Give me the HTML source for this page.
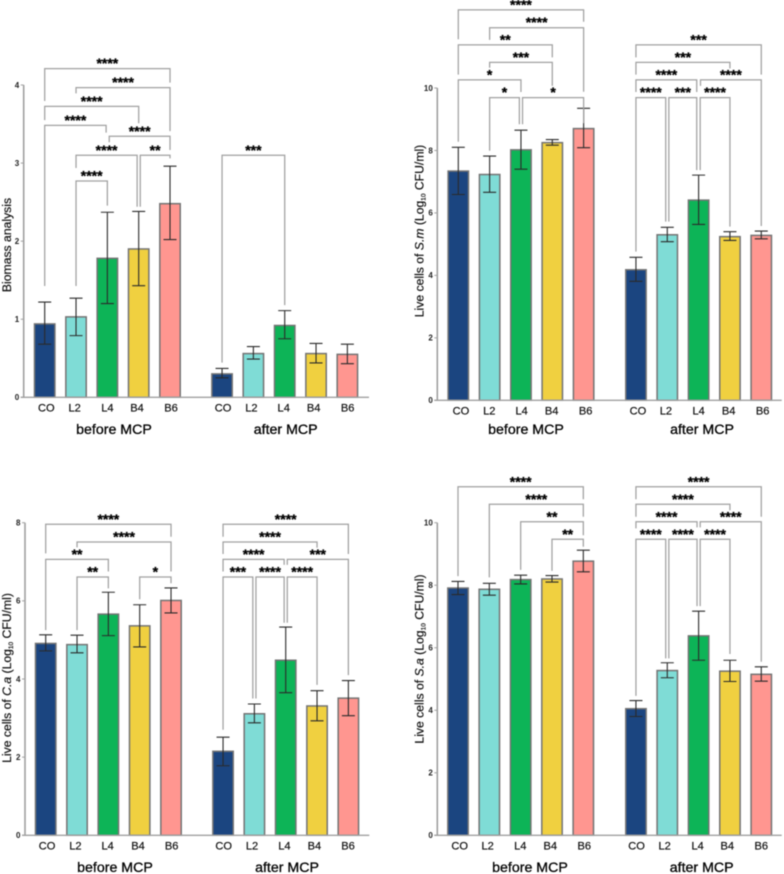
<!DOCTYPE html>
<html lang="en">
<head>
<meta charset="utf-8">
<title>Biomass and live cell counts before and after MCP</title>
<style>
html,body{margin:0;padding:0;background:#fff;width:784px;height:874px;overflow:hidden}
svg{display:block;filter:blur(.5px)}
text{font-family:"Liberation Sans",sans-serif;fill:#1a1a1a}
.ytitle{font-size:12.2px;fill:#111;stroke:#111;stroke-width:.2px}
.group{font-size:14.2px;fill:#000;stroke:#000;stroke-width:.3px}
.xtick{font-size:11.1px;fill:#111;stroke:#111;stroke-width:.2px}
.ytick{font-size:8px;font-weight:bold;fill:#222}
.sig{font-size:14px;font-weight:bold;fill:#000;stroke:#000;stroke-width:.3px;text-anchor:middle}
</style>
</head>
<body>
<svg id="figure" width="784" height="874" viewBox="0 0 784 874" xmlns="http://www.w3.org/2000/svg">
  <rect width="784" height="874" fill="#fff"/>
  <g id="panel-biomass">
    <text class="ytitle" text-anchor="middle" transform="translate(11,245) rotate(-90)">Biomass analysis</text>
    <text class="group" text-anchor="middle" x="114" y="434">before MCP</text>
    <text class="group" text-anchor="middle" x="285.7" y="434">after MCP</text>
  </g>
  <g id="panel-sm">
    <text class="ytitle" text-anchor="middle" transform="translate(423.5,231) rotate(-90)">Live cells of <tspan font-style="italic">S.m</tspan> (Log<tspan font-size="6.5" dy="2">10</tspan><tspan dy="-2"> CFU/ml)</tspan></text>
    <text class="group" text-anchor="middle" x="526" y="434">before MCP</text>
    <text class="group" text-anchor="middle" x="702" y="434">after MCP</text>
  </g>
  <g id="panel-ca">
    <text class="ytitle" text-anchor="middle" transform="translate(11,678) rotate(-90)">Live cells of <tspan font-style="italic">C.a</tspan> (Log<tspan font-size="6.5" dy="2">10</tspan><tspan dy="-2">  CFU/ml)</tspan></text>
    <text class="group" text-anchor="middle" x="115" y="872">before MCP</text>
    <text class="group" text-anchor="middle" x="287" y="872">after MCP</text>
  </g>
  <g id="panel-sa">
    <text class="ytitle" text-anchor="middle" transform="translate(423.5,659) rotate(-90)">Live cells of <tspan font-style="italic">S.a</tspan> (Log<tspan font-size="6.5" dy="2">10</tspan><tspan dy="-2">  CFU/ml)</tspan></text>
    <text class="group" text-anchor="middle" x="530" y="872">before MCP</text>
    <text class="group" text-anchor="middle" x="701.7" y="872">after MCP</text>
  </g>
</svg>
<script>
const categories = ["CO","L2","L4","B4","B6","CO","L2","L4","B4","B6"];
const barColors = ["#1b4580","#7fdcd6","#0db457","#f0d040","#ff9690"];

const biomassTicks = [0,1,2,3,4];
const biomassMeans = [0.94,1.03,1.78,1.90,2.48,0.30,0.56,0.92,0.56,0.55];
const biomassUpper = [1.22,1.27,2.37,2.38,2.96,0.37,0.65,1.11,0.69,0.68];
const biomassLower = [0.68,0.79,1.20,1.43,2.02,0.25,0.49,0.75,0.44,0.43];
const biomassBrackets = [
  [0,4,4.21,3.795,4.03,"****"],
  [1,4,3.966,3.893,3.41,"****"],
  [0,3,3.727,3.55,3.51,"****"],
  [0,1.96,3.483,1.426,3.39,"****"],
  [2.06,4,3.343,3.266,3.167,"****"],
  [1,2.95,3.10,2.937,2.44,"****"],
  [3.05,4,3.10,2.44,3.06,"**"],
  [1,2,2.77,1.426,2.455,"****"],
  [5,7,3.10,0.444,1.18,"***"]
];

const smTicks = [0,2,4,6,8,10];
const smMeans = [7.34,7.23,8.02,8.25,8.70,4.18,5.30,6.41,5.24,5.28];
const smUpper = [8.10,7.82,8.65,8.35,9.35,4.58,5.54,7.21,5.40,5.42];
const smLower = [6.59,6.66,7.40,8.17,8.09,3.81,5.08,5.63,5.12,5.17];
const smBrackets = [
  [0,4,12.50,11.56,12.12,"****"],
  [1,4,11.93,11.54,9.88,"****"],
  [0,3,11.38,10.43,10.98,"**"],
  [1,3,10.82,10.65,10.07,"***"],
  [0,2,10.26,8.28,9.87,"*"],
  [1,1.95,9.69,7.99,8.84,"*"],
  [2.05,4,9.69,8.84,8.87,"*"],
  [5,9,11.38,10.98,10.43,"***"],
  [5,8,10.82,10.43,10.63,"***"],
  [5,6.94,10.26,9.87,9.87,"****"],
  [7.06,9,10.26,10.07,5.58,"****"],
  [5,5.95,9.69,4.76,5.72,"****"],
  [6.05,6.94,9.69,5.72,7.37,"***"],
  [7.05,8,9.69,7.37,5.56,"****"]
];

const caTicks = [0,2,4,6,8];
const caMeans = [4.91,4.88,5.66,5.36,6.01,2.15,3.11,4.48,3.31,3.51];
const caUpper = [5.13,5.12,6.22,5.90,6.33,2.51,3.36,5.33,3.70,3.96];
const caLower = [4.72,4.67,5.11,4.82,5.69,1.78,2.88,3.65,2.93,3.06];
const caBrackets = [
  [0,4,7.96,7.215,7.64,"****"],
  [1,4,7.505,7.37,6.75,"****"],
  [0,2,7.06,5.25,6.75,"**"],
  [1,2,6.61,5.25,6.32,"**"],
  [3,4,6.61,6.04,6.45,"*"],
  [5,9,7.96,7.64,7.2,"****"],
  [5,8,7.505,7.2,7.36,"****"],
  [5,6.95,7.06,6.75,6.92,"****"],
  [7.05,9,7.06,6.92,4.1,"***"],
  [5,5.95,6.61,2.7,3.5,"***"],
  [6.05,6.95,6.61,3.5,5.44,"****"],
  [7.05,8,6.61,5.44,3.85,"****"]
];

const saTicks = [0,2,4,6,8,10];
const saMeans = [7.91,7.87,8.18,8.20,8.77,4.05,5.27,6.38,5.25,5.15];
const saUpper = [8.12,8.06,8.32,8.31,9.12,4.31,5.52,7.17,5.60,5.39];
const saLower = [7.70,7.68,8.04,8.10,8.43,3.80,5.04,5.60,4.92,4.93];
const saBrackets = [
  [0,4,11.15,8.29,10.75,"****"],
  [1,4,10.59,8.25,10.19,"****"],
  [2,4,10.03,8.49,9.6,"**"],
  [3,4,9.47,8.46,9.23,"**"],
  [5,9,11.15,10.75,10.19,"****"],
  [5,8,10.59,10.19,10.4,"****"],
  [5,6.95,10.03,9.82,9.85,"****"],
  [7.05,9,10.03,9.85,5.55,"****"],
  [5,5.95,9.47,4.46,5.66,"****"],
  [6.05,6.95,9.47,5.66,7.33,"****"],
  [7.05,8,9.47,7.33,5.8,"****"]
];

const SVGNS = "http://www.w3.org/2000/svg";

function make(parent, tag, attrs, content) {
  const el = document.createElementNS(SVGNS, tag);
  for (const k in attrs) el.setAttribute(k, attrs[k]);
  if (content !== undefined) el.textContent = content;
  parent.appendChild(el);
  return el;
}

function drawPanel(id, ticks, means, upper, lower, brackets, layout) {
  const root = document.getElementById(id);
  const maxTick = ticks[ticks.length - 1];
  const yScale = v => layout.y0 - (v / maxTick) * (layout.y0 - layout.yTop);
  const xScale = i => layout.x0 + i * layout.step + (i >= 4.5 ? layout.gap : 0);
  const halfBar = 10.2;

  means.forEach((m, i) => {
    const cx = xScale(i);
    const bar = make(root, "rect", {
      x: cx - halfBar, y: yScale(m), width: halfBar * 2, height: yScale(0) - yScale(m),
      fill: barColors[i % 5], stroke: "#747474", "stroke-width": 1.5
    });
    
    
  });

  means.forEach((m, i) => {
    const cx = xScale(i);
    const err = make(root, "path", {
      d: "M" + (cx - 6.5) + " " + yScale(upper[i]) + "H" + (cx + 6.5) +
         "M" + cx + " " + yScale(upper[i]) + "V" + yScale(lower[i]) +
         "M" + (cx - 6.5) + " " + yScale(lower[i]) + "H" + (cx + 6.5),
      fill: "none", stroke: "#2a2a2a", "stroke-width": 1.1
    });
    
    
  });

  const yAxis = make(root, "line", {
    x1: layout.axisX, x2: layout.axisX, y1: yScale(0), y2: yScale(maxTick),
    stroke: "#a0a0a0", "stroke-width": 1.6
  });
  
  

  const xAxis = make(root, "line", {
    x1: layout.axisX - 3, x2: layout.axisEnd, y1: yScale(0), y2: yScale(0),
    stroke: "#a0a0a0", "stroke-width": 1.3
  });
  
  

  ticks.forEach(t => {
    const mark = make(root, "line", {
      x1: layout.axisX - 3, x2: layout.axisX, y1: yScale(t), y2: yScale(t),
      stroke: "#a0a0a0", "stroke-width": 1
    });
    
    
    const label = make(root, "text", {
      class: "ytick", x: layout.axisX - 4.5, y: yScale(t) + 2.8, "text-anchor": "end"
    }, String(t));
    
    
  });

  categories.forEach((c, i) => {
    const label = make(root, "text", {
      class: "xtick", x: xScale(i) + layout.labelDx[i] / 3, y: layout.y0 + 14, "text-anchor": "middle"
    }, c);
    
    
  });

  brackets.forEach(b => {
    const xa = xScale(b[0]), xb = xScale(b[1]), yl = yScale(b[2]);
    const line = make(root, "path", {
      d: "M" + xa + " " + yScale(b[3]) + "V" + yl + "H" + xb + "V" + yScale(b[4]),
      fill: "none", stroke: "#a0a0a0", "stroke-width": 1.25
    });
    
    
    const star = make(root, "text", { class: "sig", x: (xa + xb) / 2, y: yl - 0.5 }, b[5]);
    
    
  });
}

drawPanel("panel-biomass", biomassTicks, biomassMeans, biomassUpper, biomassLower, biomassBrackets, {
  y0: 397.3, yTop: 85, x0: 44.7, step: 31.33, gap: 20.7, axisX: 23.7, axisEnd: 369,
  labelDx: [5,-4,0,-5,3,3,-6,-3,-7,1]
});
drawPanel("panel-sm", smTicks, smMeans, smUpper, smLower, smBrackets, {
  y0: 400.3, yTop: 88, x0: 458.3, step: 31.33, gap: 21, axisX: 437.3, axisEnd: 781.7,
  labelDx: [8,-1,2,-2,6,6,-4,0,-4,4]
});
drawPanel("panel-ca", caTicks, caMeans, caUpper, caLower, caBrackets, {
  y0: 835.3, yTop: 522.7, x0: 45.7, step: 31.33, gap: 20.7, axisX: 25, axisEnd: 369.3,
  labelDx: [4,-5,-2,-5,2,2,-7,-4,-8,-1]
});
drawPanel("panel-sa", saTicks, saMeans, saUpper, saLower, saBrackets, {
  y0: 835.3, yTop: 522.7, x0: 458, step: 31.33, gap: 21.3, axisX: 437.3, axisEnd: 781.7,
  labelDx: [5,-5,-1,-5,3,2,-8,-3,-8,0]
});
</script>
</body>
</html>
